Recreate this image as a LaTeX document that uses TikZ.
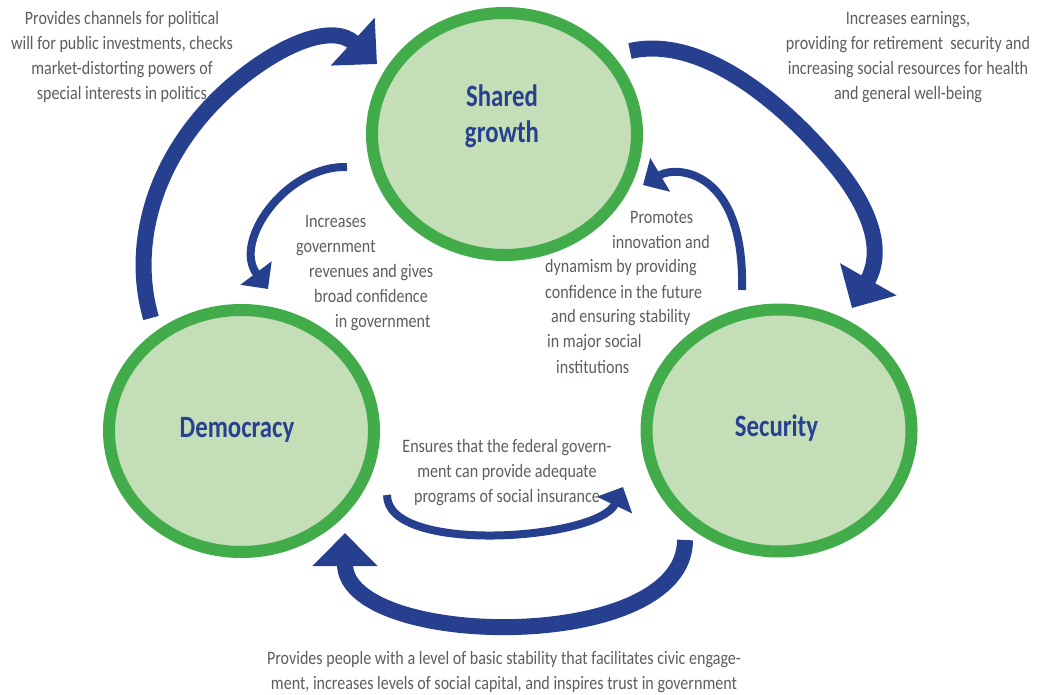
\documentclass[tikz,border=0pt]{standalone}
\usepackage{fontspec}
\setmainfont[FakeStretch=0.845]{Carlito}
\newfontfamily\titlefont[FakeStretch=0.8]{Carlito}
\usetikzlibrary{arrows.meta,shapes.geometric}
\definecolor{ringgreen}{RGB}{67,172,74}
\definecolor{fillgreen}{RGB}{196,222,184}
\definecolor{arrowblue}{RGB}{38,64,143}
\definecolor{titleblue}{RGB}{39,64,143}
\definecolor{textgray}{RGB}{92,93,95}
\tikzset{
  ring/.style={ellipse, draw=ringgreen, line width=12pt, fill=fillgreen,
    minimum width=265pt, minimum height=242pt, inner sep=0pt},
  titletext/.style={font=\titlefont\bfseries\fontsize{31}{36}\selectfont,
    text=titleblue, inner sep=0pt, align=center, anchor=base},
  bodytext/.style={font=\fontsize{19}{25}\selectfont, text=textgray,
    inner sep=0pt, anchor=base},
  bigarrow/.style={color=arrowblue, line width=16pt,
    -{Triangle[length=33pt,width=63pt]}},
  smallarrow/.style={color=arrowblue, line width=8pt,
    -{Triangle[length=20pt,width=38pt]}},
}
\begin{document}
\begin{tikzpicture}[x=1pt,y=-1pt]
\useasboundingbox (0,0) rectangle (1037,695);

% rings
\node[ring] (sg)  at (504.5,134) {};
\node[ring] (dem) at (241.5,431) {};
\node[ring] (sec) at (779,430.5) {};

% titles (anchor base = last line)
\node[titletext] (sgt)  at (502,143) {Shared\\growth};
\node[titletext] (demt) at (237,437) {Democracy};
\node[titletext] (sect) at (776.5,436) {Security};

% arrow end points
\coordinate (tA) at (151,318);
\coordinate (mA) at (236,82);
\coordinate (hA) at (377,64);
\coordinate (tB) at (630,51);
\coordinate (mB) at (833,163);
\coordinate (hB) at (852,308);
\coordinate (tC) at (685,540);
\coordinate (hC) at (345,533);
\coordinate (tD) at (347,167);
\coordinate (hD) at (268,289);
\coordinate (tE) at (742,290);
\coordinate (hE) at (643,185);
\coordinate (tF) at (387,495);
\coordinate (hF) at (623,487);

% big arrows
\draw[bigarrow] (tA) .. controls (128,238) and (159,146) .. (mA)
                     .. controls (282,43.6) and (332.6,23.2) .. (hA);
\draw[bigarrow] (tB) .. controls (700,35) and (780,100) .. (mB)
                     .. controls (870,207) and (885,250) .. (hB);
\draw[bigarrow] (tC) .. controls (685,655) and (345,649) .. (hC);

% small arrows
\draw[smallarrow] (tD) .. controls (287,165) and (232,241) .. (hD);
\draw[smallarrow] (tE) .. controls (745,170) and (677,165) .. (hE);
\draw[smallarrow] (tF) .. controls (387,555) and (598,540) .. (hF);

% texts (anchor base = baseline of the last line)
\node[bodytext, align=center] (txA) at (122,100)
  {Provides channels for political\\will for public investments, checks\\market-distorting powers of\\special interests in politics};
\node[bodytext, align=center] (txB) at (908,100)
  {Increases earnings,\\providing for retirement\ \ security and\\increasing social resources for health\\and general well-being};
\node[bodytext, align=left, anchor=base west] (txD) at (296,327)
  {\hspace*{9pt}Increases\\government\\\hspace*{13pt}revenues and gives\\\hspace*{18pt}broad confidence\\\hspace*{39pt}in government};
\node[bodytext, align=left, anchor=base west] (txE) at (545,373)
  {\hspace*{85pt}Promotes\\\hspace*{67pt}innovation and\\dynamism by providing\\confidence in the future\\\hspace*{6pt}and ensuring stability\\\hspace*{2pt}in major social\\\hspace*{11pt}institutions};
\node[bodytext, align=center] (txF) at (507,502)
  {Ensures that the federal govern-\\ment can provide adequate\\programs of social insurance};
\node[bodytext, align=center] (txC) at (504,689)
  {Provides people with a level of basic stability that facilitates civic engage-\\ment, increases levels of social capital, and inspires trust in government};
\end{tikzpicture}
\end{document}
